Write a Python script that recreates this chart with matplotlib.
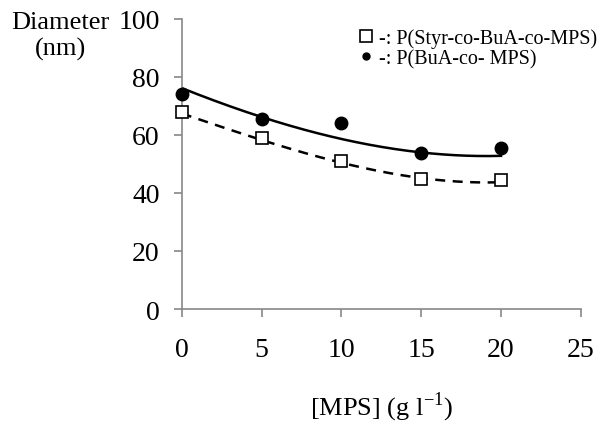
import numpy as np
import matplotlib
matplotlib.use('Agg')
import matplotlib.pyplot as plt

# measured points
mps = [0, 5, 10, 15, 20]
d_bua = [74.0, 65.6, 63.9, 53.7, 55.5]
d_styr = [67.7, 58.8, 51.1, 44.7, 44.5]

# trend curves
x_fit = [0, 2.5, 5, 7.5, 10, 12.5, 15, 17.5, 20]
fit_bua = [76.1, 71.1, 65.4, 62.2, 59.1, 55.9, 53.4, 53.0, 52.8]
fit_styr = [67.1, 63.1, 58.3, 53.9, 49.9, 47.6, 45.3, 43.8, 43.6]

plt.rcParams['font.family'] = ['Liberation Serif', 'DejaVu Serif']

fig = plt.figure(figsize=(6, 4.27), dpi=100)
ax = fig.add_axes([0.303, 0.274, 0.665, 0.680])

# smooth trendlines through the read curve values
xs = np.linspace(0, 20, 200)
ax.plot(xs, np.polyval(np.polyfit(x_fit, fit_bua, 3), xs), color='black', lw=1.8)
ax.plot(xs, np.polyval(np.polyfit(x_fit, fit_styr, 3), xs), color='black', lw=1.8,
        ls=(0, (4, 3)))
ax.plot(mps, d_bua, 'o', color='black', ms=9, clip_on=False, zorder=5,
        label='-: P(BuA-co- MPS)')
ax.plot(mps, d_styr, 's', mfc='white', mec='black', mew=1.2, ms=9, clip_on=False,
        zorder=5, label='-: P(Styr-co-BuA-co-MPS)')

ax.set_xlim(0, 25)
ax.set_ylim(0, 100)
ax.set_xticks([0, 5, 10, 15, 20, 25])
ax.set_yticks([0, 20, 40, 60, 80, 100])
for s in ['top', 'right']:
    ax.spines[s].set_visible(False)
for s in ['left', 'bottom']:
    ax.spines[s].set_color('#888888')
    ax.spines[s].set_linewidth(1.2)
ax.tick_params(colors='#888888', labelcolor='black', labelsize=20, length=6, width=1.2)
ax.tick_params(axis='x', pad=14)
ax.tick_params(axis='y', pad=10)

ax.set_xlabel('[MPS] (g l$^{\\mathregular{-1}}$)', fontsize=19, labelpad=20)
fig.text(0.1, 0.972, 'Diameter\n(nm)', ha='center', va='top', fontsize=19,
         linespacing=1.2)

h, l = ax.get_legend_handles_labels()
leg = ax.legend(h[::-1], l[::-1], loc='upper right', bbox_to_anchor=(1.06, 0.995),
                frameon=False, fontsize=14.5, handlelength=0.8, handletextpad=0.2,
                labelspacing=0.05, borderaxespad=0)
leg.legend_handles[0].set_markersize(9)
leg.legend_handles[1].set_markersize(5)

fig.savefig('out.png', dpi=100)
